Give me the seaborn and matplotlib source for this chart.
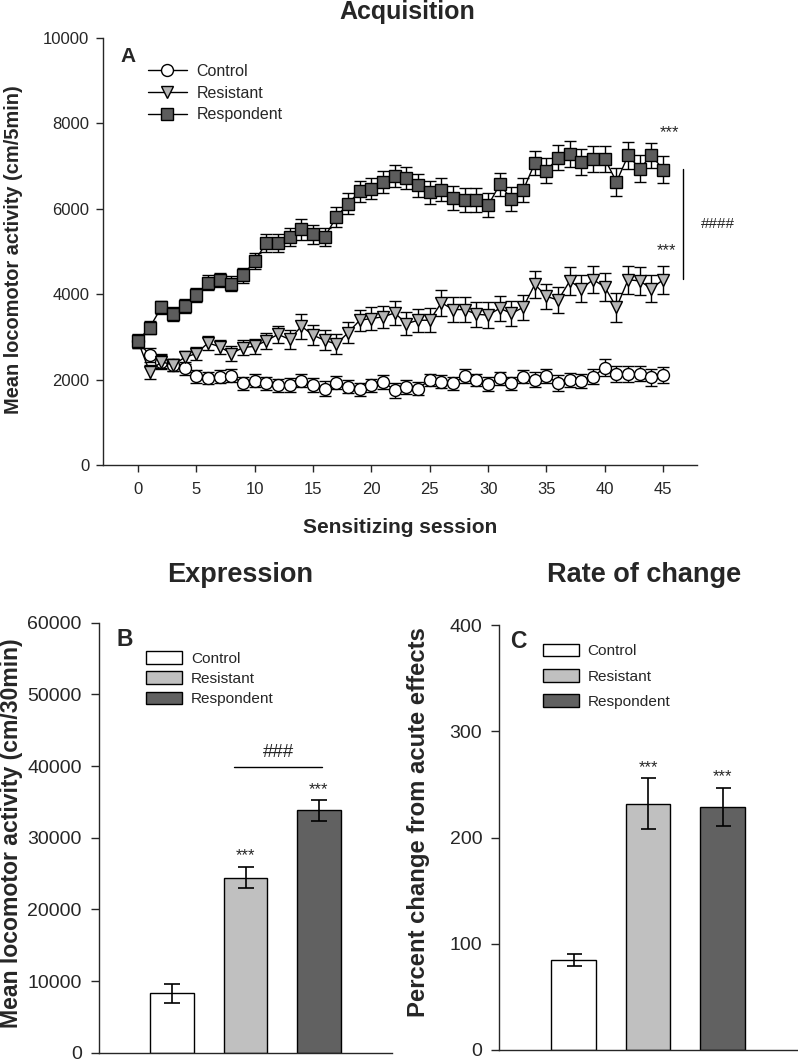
import matplotlib
matplotlib.use("Agg")
import matplotlib.pyplot as plt
from matplotlib.patches import Patch
import seaborn as sns

# panel A: mean locomotor activity per sensitizing session (mean, SEM)
sessions = list(range(46))
control_mean = [2900, 2570, 2420, 2340, 2260, 2080, 2030, 2070, 2090, 1910,
                1970, 1910, 1870, 1870, 1970, 1870, 1790, 1930, 1830, 1770,
                1870, 1950, 1750, 1830, 1790, 1990, 1950, 1910, 2080, 1990,
                1900, 2030, 1910, 2070, 2000, 2080, 1920, 1990, 1970, 2070,
                2280, 2140, 2130, 2140, 2050, 2110]
control_sem = [150, 160, 170, 150, 160, 150, 140, 150, 150, 160,
               150, 150, 150, 160, 150, 160, 170, 160, 150, 160,
               150, 160, 170, 170, 160, 150, 150, 160, 160, 150,
               160, 150, 160, 160, 170, 170, 180, 170, 170, 180,
               200, 190, 190, 180, 190, 190]
resistant_mean = [2900, 2180, 2420, 2340, 2520, 2610, 2860, 2770, 2610, 2750,
                  2780, 2910, 3060, 2940, 3250, 3040, 2920, 2830, 3100, 3390,
                  3430, 3470, 3560, 3310, 3390, 3390, 3800, 3640, 3640, 3530,
                  3510, 3670, 3550, 3690, 4230, 3950, 3860, 4310, 4130, 4340,
                  4170, 3690, 4340, 4310, 4130, 4340]
resistant_sem = [150, 160, 150, 150, 160, 160, 160, 160, 170, 180,
                 180, 190, 200, 220, 290, 230, 230, 230, 240, 250,
                 260, 260, 270, 270, 270, 280, 310, 290, 290, 290,
                 300, 290, 300, 290, 310, 300, 300, 320, 310, 320,
                 320, 330, 330, 320, 320, 330]
respondent_mean = [2910, 3220, 3690, 3530, 3730, 3980, 4270, 4330, 4250, 4440,
                   4780, 5200, 5200, 5330, 5520, 5400, 5340, 5810, 6120, 6410,
                   6470, 6630, 6760, 6730, 6550, 6390, 6450, 6260, 6200, 6200,
                   6080, 6570, 6230, 6430, 7070, 6890, 7200, 7290, 7100, 7170,
                   7170, 6630, 7250, 6940, 7250, 6920]
respondent_sem = [150, 150, 160, 160, 160, 170, 170, 170, 180, 180,
                  190, 200, 200, 210, 240, 220, 220, 240, 240, 250,
                  250, 260, 260, 260, 270, 270, 270, 280, 280, 280,
                  280, 280, 280, 280, 290, 290, 290, 300, 300, 300,
                  310, 320, 320, 310, 300, 320]

# panels B and C
groups = ["Control", "Resistant", "Respondent"]
expression_mean = [8300, 24400, 33800]
expression_sem = [1300, 1450, 1400]
rate_mean = [85, 232, 229]
rate_sem = [5.5, 24, 18]

bar_colors = {"Control": "#ffffff", "Resistant": "#c0c0c0", "Respondent": "#616161"}
marker_faces = {"Control": "#ffffff", "Resistant": "#b5b5b5", "Respondent": "#5c5c5c"}
marker_shapes = {"Control": "o", "Resistant": "v", "Respondent": "s"}
marker_sizes = {"Control": 8.6, "Resistant": 8.8, "Respondent": 8.0}

sns.set_style("ticks")
plt.rcParams["font.family"] = ["Liberation Sans", "DejaVu Sans"]

W, H = 798, 1059
fig = plt.figure(figsize=(W / 100, H / 100), dpi=100)


def box(left, top, right, bottom):
    return [left / W, 1 - bottom / H, (right - left) / W, (bottom - top) / H]


def style_axes(ax, labelsize, ylen, ypad):
    sns.despine(ax=ax)
    for sp in ax.spines.values():
        sp.set_linewidth(1)
    ax.tick_params(axis="y", direction="out", length=ylen, width=1,
                   labelsize=labelsize, pad=ypad)


# ---- A: acquisition ----
axA = fig.add_axes(box(103, 38, 697, 465))
series = [("Control", control_mean, control_sem),
          ("Resistant", resistant_mean, resistant_sem),
          ("Respondent", respondent_mean, respondent_sem)]
for name, mean, sem in series:
    axA.errorbar(sessions, mean, yerr=sem, fmt="none", ecolor="black",
                 elinewidth=1, capsize=4.3, capthick=1, zorder=2)
for name, mean, sem in series:
    sns.lineplot(x=sessions, y=mean, ax=axA, color="black", linewidth=1,
                 marker=marker_shapes[name], markersize=marker_sizes[name],
                 markerfacecolor=marker_faces[name], markeredgecolor="black",
                 markeredgewidth=1, label=name, errorbar=None, zorder=3)

axA.set_xlim(-3, 47.9)
axA.set_ylim(0, 10000)
axA.set_xticks(range(0, 46, 5))
axA.set_yticks(range(0, 10001, 2000))
style_axes(axA, 12, 4.8, 5)
axA.tick_params(axis="x", direction="out", length=5.3, width=1,
                labelsize=12, pad=7)
axA.set_xlabel("Sensitizing session", fontsize=15, fontweight="bold")
axA.xaxis.set_label_coords(0.5, -0.124)
axA.set_ylabel("")

handles, labels = axA.get_legend_handles_labels()
keep = [(h, l) for h, l in zip(handles, labels) if l in groups]
axA.legend([h for h, _ in keep], [l for _, l in keep], loc="upper left",
           bbox_to_anchor=(148 / W, 1 - 64 / H), bbox_transform=fig.transFigure,
           frameon=False, fontsize=11.5, handlelength=2.44, handletextpad=0.6,
           labelspacing=0.42, borderpad=0, borderaxespad=0, numpoints=1)

axA.text(45.5, 7680, "***", ha="center", va="baseline", fontsize=12)
axA.text(45.3, 4905, "***", ha="center", va="baseline", fontsize=12)
axA.plot([46.67, 46.67], [4367, 6940], color="black", lw=1, clip_on=False)
axA.text(49.7, 5654, "####", ha="center", va="center", fontsize=11,
         clip_on=False)

fig.text(407 / W, 1 - 19.5 / H, "Acquisition", ha="center", va="baseline",
         fontsize=18, fontweight="bold")
fig.text(128 / W, 1 - 57 / H, "A", ha="center", va="center",
         fontsize=15, fontweight="bold")
fig.text(14 / W, 1 - 250 / H, "Mean locomotor activity (cm/5min)",
         rotation=90, ha="center", va="center", fontsize=14.4,
         fontweight="bold")


def bar_panel(ax, means, sems, capsize):
    sns.barplot(x=groups, y=means, hue=groups, order=groups, hue_order=groups,
                palette=bar_colors, width=0.6, edgecolor="black", linewidth=1,
                errorbar=None, legend=False, ax=ax)
    ax.errorbar(range(len(groups)), means, yerr=sems, fmt="none",
                ecolor="black", elinewidth=1.2, capsize=capsize, capthick=1.2,
                zorder=3)
    ax.set_xlim(-1, 3)
    ax.set_xticks([])
    ax.set_xlabel("")
    ax.set_ylabel("")


def bar_legend(ax, x_px, top_px, spacing):
    hs = [Patch(facecolor=bar_colors[g], edgecolor="black", linewidth=1,
                label=g) for g in groups]
    ax.legend(handles=hs, loc="upper left",
              bbox_to_anchor=(x_px / W, 1 - top_px / H),
              bbox_transform=fig.transFigure, frameon=False, fontsize=11.1,
              handlelength=2.35, handleheight=0.9, handletextpad=0.57,
              labelspacing=spacing, borderpad=0, borderaxespad=0)


# ---- B: expression ----
axB = fig.add_axes(box(99, 622.7, 392, 1052.7))
bar_panel(axB, expression_mean, expression_sem, 5.5)
axB.set_ylim(0, 60000)
axB.set_yticks(range(0, 60001, 10000))
style_axes(axB, 14, 6, 6.5)
bar_legend(axB, 146, 651, 0.36)
axB.text(1, 26840, "***", ha="center", va="baseline", fontsize=12)
axB.text(2, 36150, "***", ha="center", va="baseline", fontsize=12)
axB.plot([0.84, 2.05], [39800, 39800], color="black", lw=1)
axB.text(1.45, 41860, "###", ha="center", va="center", fontsize=13.5)

fig.text(240 / W, 1 - 582 / H, "Expression", ha="center", va="baseline",
         fontsize=19.5, fontweight="bold")
fig.text(125 / W, 1 - 640 / H, "B", ha="center", va="center",
         fontsize=16.5, fontweight="bold")
fig.text(12 / W, 1 - 833 / H, "Mean locomotor activity (cm/30min)",
         rotation=90, ha="center", va="center", fontsize=16.6,
         fontweight="bold")

# ---- C: rate of change ----
axC = fig.add_axes(box(499, 625, 797, 1050))
bar_panel(axC, rate_mean, rate_sem, 5.4)
axC.set_ylim(0, 400)
axC.set_yticks(range(0, 401, 100))
style_axes(axC, 14, 6, 6)
bar_legend(axC, 542.7, 643.5, 0.69)
axC.text(1, 261.6, "***", ha="center", va="baseline", fontsize=12)
axC.text(2, 253.2, "***", ha="center", va="baseline", fontsize=12)

fig.text(644 / W, 1 - 582 / H, "Rate of change", ha="center", va="baseline",
         fontsize=19.5, fontweight="bold")
fig.text(518 / W, 1 - 642 / H, "C", ha="center", va="center",
         fontsize=16.5, fontweight="bold")
fig.text(419 / W, 1 - 822 / H, "Percent change from acute effects",
         rotation=90, ha="center", va="center", fontsize=17.2,
         fontweight="bold")

fig.savefig("out.png", dpi=100)
plt.close(fig)
